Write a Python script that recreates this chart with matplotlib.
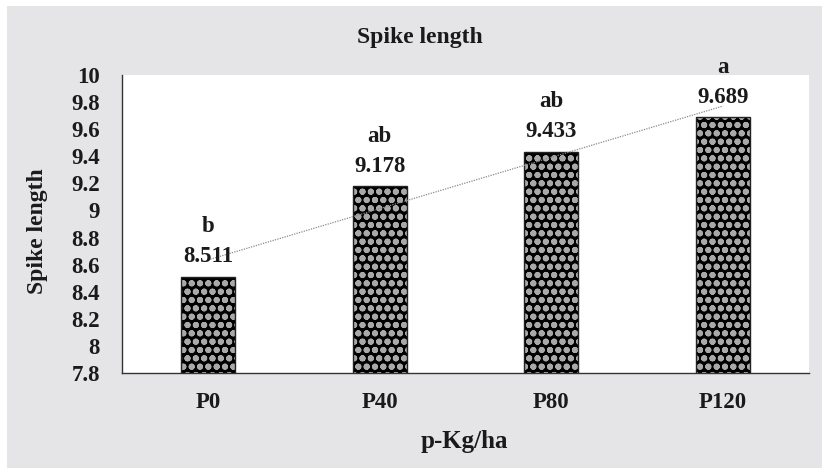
import matplotlib
matplotlib.use("Agg")
import matplotlib.pyplot as plt
from matplotlib.patches import Rectangle
import numpy as np

categories = ["P0", "P40", "P80", "P120"]
values = [8.511, 9.178, 9.433, 9.689]
letters = ["b", "ab", "ab", "a"]
yticks = [7.8, 8, 8.2, 8.4, 8.6, 8.8, 9, 9.2, 9.4, 9.6, 9.8, 10]
ytick_labels = ["7.8", "8", "8.2", "8.4", "8.6", "8.8", "9", "9.2", "9.4", "9.6", "9.8", "10"]

plt.rcParams['font.family'] = ['Liberation Serif', 'DejaVu Serif']
plt.rcParams['hatch.linewidth'] = 2.0

W, H = 822, 469
fig = plt.figure(figsize=(W / 100, H / 100), dpi=100, facecolor='white')
fig.patches.append(Rectangle((7 / W, 1 / H), 1 - 7 / W, 1 - 7 / H, transform=fig.transFigure,
                             facecolor='#e5e5e7', edgecolor='none', zorder=-10))

ax = fig.add_axes([122 / W, 1 - 373 / H, (809 - 122) / W, (373 - 75) / H])
ax.set_facecolor('white')

x = np.arange(len(categories))
ax.bar(x, values, width=0.315, bottom=0, color='black', edgecolor='#a8a8a8', hatch='oo',
       linewidth=0, zorder=2)
ax.bar(x, values, width=0.315, color='none', edgecolor='#222222', linewidth=1.0, zorder=3)

coef = np.polyfit(x, values, 1)
xt = np.array([x[0], x[-1]])
ax.plot(xt, np.polyval(coef, xt), linestyle=(0, (1, 1)), color='#8a8a8a', linewidth=0.9, zorder=4)

for xi, v, l in zip(x, values, letters):
    ax.annotate(f"{v:.3f}", (xi, v), xytext=(0, 10.5), textcoords='offset points',
                ha='center', va='baseline', fontsize=16.5, fontweight='bold', color='#1a1a1a', zorder=5)
    ax.annotate(l, (xi, v), xytext=(0, 32), textcoords='offset points',
                ha='center', va='baseline', fontsize=16.5, fontweight='bold', color='#1a1a1a', zorder=5)

ax.set_ylim(7.8, 10)
ax.set_xlim(-0.5, len(categories) - 0.5)
ax.set_yticks(yticks)
ax.set_yticklabels(ytick_labels)
ax.set_xticks(x)
ax.set_xticklabels(categories)
ax.tick_params(axis='both', length=0, labelsize=16.5, colors='#1a1a1a')
ax.tick_params(axis='y', pad=16)
ax.tick_params(axis='x', pad=14)
for lab in ax.get_xticklabels() + ax.get_yticklabels():
    lab.set_fontweight('bold')

for s in ['top', 'right']:
    ax.spines[s].set_visible(False)
ax.spines['left'].set_color('#333333')
ax.spines['bottom'].set_color('#333333')
ax.spines['left'].set_linewidth(1.0)
ax.spines['bottom'].set_linewidth(1.0)

fig.text(420 / W, 1 - 37 / H, "Spike length", ha='center', va='center',
         fontsize=17, fontweight='bold', color='#1a1a1a')
fig.text(37 / W, 1 - 231 / H, "Spike length", ha='center', va='center', rotation=90,
         fontsize=17, fontweight='bold', color='#1a1a1a')
fig.text(464 / W, 1 - 441 / H, "p-Kg/ha", ha='center', va='center',
         fontsize=18, fontweight='bold', color='#1a1a1a')

fig.savefig("out.png", dpi=100, facecolor=fig.get_facecolor())
